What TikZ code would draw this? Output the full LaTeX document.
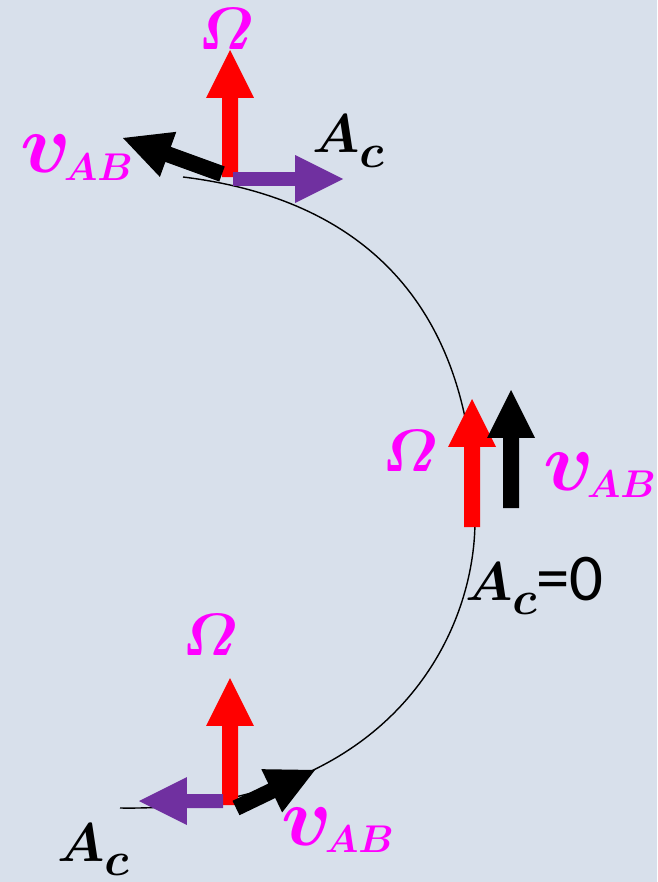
\RequirePackage{fix-cm}
\documentclass[tikz,border=0pt]{standalone}
\usepackage{amsmath}
\usepackage{bm}
\usepackage{fontspec}
\newfontfamily\carlito{Carlito}
\usepackage{xcolor}
\usetikzlibrary{calc, math}
\definecolor{bgblue}{RGB}{216,224,235}
\definecolor{acpurple}{RGB}{112,48,160}
\definecolor{labmag}{RGB}{255,0,255}

\newcommand{\blockarrow}[5]{%
\coordinate (hb) at ($(#3)!0.96cm!(#2)$);
\fill[#1] ($(#2)!#4cm!90:(#3)$) -- ($(hb)!#4cm!-90:(#2)$) -- ($(hb)!#5cm!-90:(#2)$) -- (#3)
 -- ($(hb)!#5cm!90:(#2)$) -- ($(hb)!#4cm!90:(#2)$) -- ($(#2)!#4cm!-90:(#3)$) -- cycle;
}
\newcommand{\vAB}{{\fontsize{48}{50}\selectfont$\bm{v}$}\kern-4pt\raisebox{-4pt}{\fontsize{22}{24}\selectfont$\bm{AB}$}}
\newcommand{\Ac}{{\fontsize{31}{32}\selectfont$\bm{A}$}\raisebox{-8pt}{\fontsize{27}{28}\selectfont$\bm{c}$}}
\newcommand{\Om}{\fontsize{34}{36}\selectfont$\bm{\varOmega}$}

\begin{document}
\begin{tikzpicture}[x=0.02cm,y=-0.02cm,
lab/.style={inner sep=0pt, outer sep=0pt, anchor=base west},
omlab/.style={inner sep=0pt, outer sep=0pt, anchor=base, text=labmag},
vlab/.style={lab, text=labmag},
aclab/.style={lab, text=black}]
\tikzmath{
\sw=0.16;
\pw=0.14;
\hw=0.48;
}
\fill[bgblue] (0,0) rectangle (657,882);
\useasboundingbox (0,0) rectangle (657,882);

\draw[line width=0.8pt] (183,177) .. controls (363,199) and (475,305) .. (475,520)
 .. controls (475,644) and (380,812) .. (120,808);

% top
\coordinate (rTtail) at (230,177);
\coordinate (rTtip) at (230,50);
\coordinate (kTtail) at (222,174);
\coordinate (kTtip) at (123,138);
\coordinate (pTtail) at (233,179);
\coordinate (pTtip) at (343,179);
\blockarrow{red}{rTtail}{rTtip}{\sw}{\hw}
\blockarrow{black}{kTtail}{kTtip}{\sw}{\hw}
\blockarrow{acpurple}{pTtail}{pTtip}{\pw}{\hw}
\node[omlab] (omT) at (226,50) {\Om};
\node[vlab] (vT) at (20,173) {\vAB};
\node[aclab] (acT) at (312,153) {\Ac};

% middle
\coordinate (rMtail) at (472,527);
\coordinate (rMtip) at (472,399);
\coordinate (kMtail) at (511,508);
\coordinate (kMtip) at (511,390);
\blockarrow{red}{rMtail}{rMtip}{\sw}{\hw}
\blockarrow{black}{kMtail}{kMtip}{\sw}{\hw}
\node[omlab] (omM) at (410,471) {\Om};
\node[vlab] (vM) at (543,490) {\vAB};
\node[aclab] (acM) at (465,600) {\Ac{\fontsize{38}{40}\selectfont\carlito=0}};

% bottom
\coordinate (rBtail) at (230,805);
\coordinate (rBtip) at (230,678);
\coordinate (pBtail) at (223,801);
\coordinate (pBtip) at (139,801);
\coordinate (kBtail) at (236,808);
\coordinate (kBtip) at (315,770);
\blockarrow{red}{rBtail}{rBtip}{\sw}{\hw}
\blockarrow{acpurple}{pBtail}{pBtip}{\pw}{\hw}
\blockarrow{black}{kBtail}{kBtip}{\sw}{\hw}
\node[omlab] (omB) at (210,655) {\Om};
\node[vlab] (vB) at (281,845) {\vAB};
\node[aclab] (acB) at (57,861) {\Ac};
\end{tikzpicture}
\end{document}
